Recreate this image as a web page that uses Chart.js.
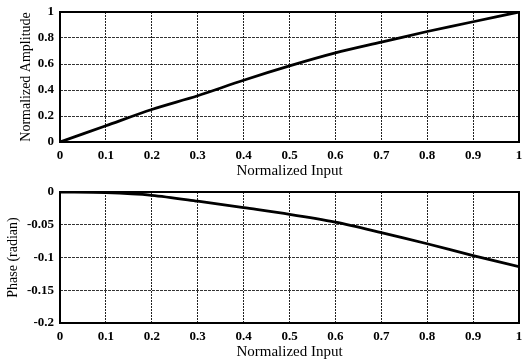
<!DOCTYPE html>
<html>
<head>
<meta charset="utf-8">
<script src="https://cdn.jsdelivr.net/npm/chart.js@4/dist/chart.umd.min.js"></script>
<style>
  html, body { margin: 0; padding: 0; background: #fff; }
  .wrap { position: absolute; left: 0; width: 522px; height: 180px; }
  #top { top: 0; }
  #bottom { top: 180px; height: 181px; }
</style>
</head>
<body>
<div class="wrap" id="top"><canvas id="ampChart"></canvas></div>
<div class="wrap" id="bottom"><canvas id="phaseChart"></canvas></div>
<script>
// values
const inputX = [0, 0.1, 0.2, 0.3, 0.4, 0.5, 0.6, 0.7, 0.8, 0.9, 1.0];
const amplitude = [0, 0.125, 0.25, 0.356, 0.475, 0.585, 0.685, 0.768, 0.85, 0.925, 1.0];
const phase = [0, -0.001, -0.005, -0.014, -0.024, -0.034, -0.046, -0.062, -0.079, -0.097, -0.114];

const xTickLabels = ['0', '0.1', '0.2', '0.3', '0.4', '0.5', '0.6', '0.7', '0.8', '0.9', '1'];
const ampTickLabels = ['0', '0.2', '0.4', '0.6', '0.8', '1'];
const phaseTickLabels = ['-0.2', '-0.15', '-0.1', '-0.05', '0'];

const serif = '"Liberation Serif", "DejaVu Serif", serif';

// box around plot area
const frame = {
    id: 'frame',
    afterDraw(chart) {
        const a = chart.chartArea;
        const ctx = chart.ctx;
        ctx.save();
        ctx.strokeStyle = '#000';
        ctx.lineWidth = 2;
        ctx.strokeRect(a.left, a.top, a.right - a.left, a.bottom - a.top);
        ctx.restore();
    }
};

function makeChart(id, yData, yMin, yMax, yLabels, yTitle, titleGap) {
    const ctx = document.getElementById(id).getContext('2d');
    return new Chart(ctx, {
        type: 'line',
        data: {
            datasets: [{
                data: inputX.map((x, i) => ({ x: x, y: yData[i] })),
                borderColor: '#000',
                borderWidth: 2.8,
                pointRadius: 0,
                tension: 0.3,
                fill: false
            }]
        },
        options: {
            responsive: true,
            maintainAspectRatio: false,
            animation: false,
            events: [],
            layout: { padding: { top: 12, right: 3, left: 0, bottom: 0 } },
            plugins: { legend: { display: false }, tooltip: { enabled: false } },
            scales: {
                x: {
                    type: 'linear',
                    min: 0,
                    max: 1,
                    afterFit: s => {
                        s.height = 38;
                        s.paddingLeft = 0;
                        s.paddingRight = 0;
                    },
                    afterBuildTicks: s => {
                        s.ticks = xTickLabels.map(t => ({ value: parseFloat(t) }));
                    },
                    ticks: {
                        color: '#000',
                        padding: 6,
                        maxRotation: 0,
                        autoSkip: false,
                        font: { family: serif, size: 13, weight: 'bold' },
                        callback: (v, i) => xTickLabels[i]
                    },
                    grid: { color: '#222', lineWidth: 1, drawTicks: false },
                    border: { display: false, dash: [2, 1] },
                    title: {
                        display: true,
                        text: 'Normalized Input',
                        color: '#000',
                        padding: { top: 0, bottom: 0 },
                        font: { family: serif, size: 15 }
                    }
                },
                y: {
                    min: yMin,
                    max: yMax,
                    afterFit: s => {
                        s.width = 60;
                        s.paddingTop = 0;
                        s.paddingBottom = 0;
                    },
                    afterBuildTicks: s => {
                        s.ticks = yLabels.map(t => ({ value: parseFloat(t) }));
                    },
                    ticks: {
                        color: '#000',
                        padding: 6,
                        autoSkip: false,
                        font: { family: serif, size: 13, weight: 'bold' },
                        callback: (v, i) => yLabels[i]
                    },
                    grid: { color: '#333', lineWidth: 1, drawTicks: false },
                    border: { display: false, dash: [3, 1] },
                    title: {
                        display: true,
                        text: yTitle,
                        color: '#000',
                        padding: { top: titleGap, bottom: 0 },
                        font: { family: serif, size: 14 }
                    }
                }
            }
        },
        plugins: [frame]
    });
}

makeChart('ampChart', amplitude, 0, 1, ampTickLabels, 'Normalized Amplitude', 18);
makeChart('phaseChart', phase, -0.2, 0, phaseTickLabels, 'Phase (radian)', 5);
</script>
</body>
</html>
